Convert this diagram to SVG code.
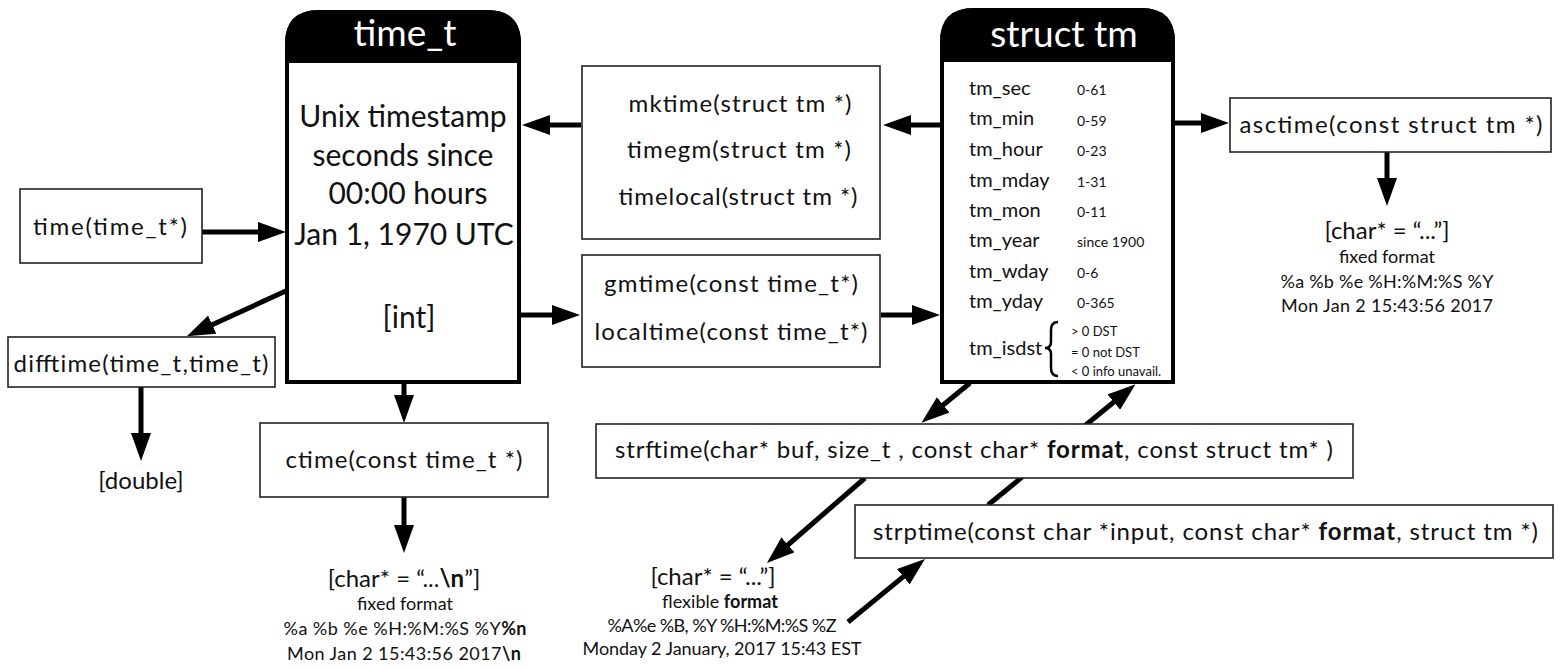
<svg xmlns="http://www.w3.org/2000/svg" width="1560" height="669" viewBox="0 0 1560 669">
<style>
text{font-family:Lato,"Open Sans","Liberation Sans",sans-serif;fill:#111;}
.t{text-anchor:middle;}
.big{font-size:30px;}
.fn{font-size:24px;}
.hd{font-size:37px;fill:#fff;text-anchor:middle;}
.fld{font-size:20px;}
.val{font-size:14px;}
.sm{font-size:13px;}
.res{font-size:24px;text-anchor:middle;}
.res2{font-size:18px;text-anchor:middle;}
.b{font-weight:bold;}
.box{fill:#fff;stroke:#222;stroke-width:1.6;}
.main{fill:#fff;stroke:#000;stroke-width:4;}
.arr{stroke:#000;stroke-width:5;fill:none;marker-end:url(#ah);}
</style>
<defs>
<marker id="ah" markerUnits="userSpaceOnUse" markerWidth="28" markerHeight="20" refX="8" refY="10" orient="auto">
<path d="M0,0 L28,10 L0,20 Z" fill="#000"/>
</marker>
</defs>
<rect width="1560" height="669" fill="#fff"/>
<g id="connectors">
<line class="arr" x1="202" y1="232" x2="266" y2="232"/>
<line class="arr" x1="581" y1="125" x2="542" y2="125"/>
<line class="arr" x1="940" y1="125" x2="903" y2="125"/>
<line class="arr" x1="521" y1="315" x2="560" y2="315"/>
<line class="arr" x1="881" y1="315" x2="920" y2="315"/>
<line class="arr" x1="1175" y1="123" x2="1209" y2="123"/>
<line class="arr" x1="1387" y1="152" x2="1387" y2="186"/>
<line class="arr" x1="288" y1="290" x2="205" y2="328"/>
<line class="arr" x1="141" y1="387" x2="141" y2="441"/>
<line class="arr" x1="404" y1="382" x2="404" y2="403"/>
<line class="arr" x1="404" y1="497" x2="404" y2="533"/>
<line class="arr" x1="970" y1="383" x2="937" y2="410"/>
<line class="arr" x1="988" y1="505" x2="1120" y2="397"/>
<line class="arr" x1="865" y1="478" x2="782" y2="550"/>
<line class="arr" x1="848" y1="622" x2="909.5" y2="571.6"/>
</g>
<g id="time_t">
<path class="main" d="M287,382 V44 Q287,12 319,12 H487 Q519,12 519,44 V382 Z"/>
<path d="M287,61 V44 Q287,12 319,12 H487 Q519,12 519,44 V61 Z" fill="#000" stroke="#000" stroke-width="4"/>
<text class="hd" x="405" y="46">time_t</text>
<text class="t big" x="403" y="127">Unix timestamp</text>
<text class="t big" x="403" y="166">seconds since</text>
<text class="t big" x="408" y="204">00:00 hours</text>
<text class="t big" x="404" y="245">Jan 1, 1970 UTC</text>
<text class="t big" x="409" y="328">[int]</text>
</g>
<g id="struct_tm">
<path class="main" d="M942,382 V42 Q942,10 974,10 H1141 Q1173,10 1173,42 V382 Z"/>
<path d="M942,60 V42 Q942,10 974,10 H1141 Q1173,10 1173,42 V60 Z" fill="#000" stroke="#000" stroke-width="4"/>
<text class="hd" x="1064" y="47">struct tm</text>
<text class="fld" x="969" y="95">tm_sec</text><text class="val" x="1077" y="95">0-61</text>
<text class="fld" x="969" y="125">tm_min</text><text class="val" x="1077" y="126">0-59</text>
<text class="fld" x="969" y="156">tm_hour</text><text class="val" x="1077" y="156">0-23</text>
<text class="fld" x="969" y="187">tm_mday</text><text class="val" x="1077" y="187">1-31</text>
<text class="fld" x="969" y="217">tm_mon</text><text class="val" x="1077" y="217">0-11</text>
<text class="fld" x="969" y="247">tm_year</text><text class="val" x="1077" y="247">since 1900</text>
<text class="fld" x="969" y="278">tm_wday</text><text class="val" x="1077" y="278">0-6</text>
<text class="fld" x="969" y="308">tm_yday</text><text class="val" x="1077" y="308">0-365</text>
<text class="fld" x="969" y="355">tm_isdst</text>
<path d="M1058,322 Q1051,322 1051,330 V342 Q1051,348 1045,348 Q1051,348 1051,354 V368 Q1051,376 1058,376" fill="none" stroke="#000" stroke-width="2.5"/>
<text class="sm" x="1071" y="336">&gt; 0 DST</text>
<text class="sm" x="1071" y="357">= 0 not DST</text>
<text class="sm" x="1071" y="376">&lt; 0 info unavail.</text>
</g>
<g id="time_fn">
<rect class="box" x="20" y="189" width="182" height="74"/>
<text class="fn t" x="110" y="235" textLength="154">time(time_t*)</text>
</g>
<g id="difftime">
<rect class="box" x="8" y="337" width="267" height="50"/>
<text class="fn t" x="141" y="372" textLength="255">difftime(time_t,time_t)</text>
</g>
<g id="double_result">
<text class="res" x="141" y="489">[double]</text>
</g>
<g id="ctime">
<rect class="box" x="260" y="423" width="288" height="74"/>
<text class="fn t" x="404" y="468" textLength="237">ctime(const time_t *)</text>
</g>
<g id="ctime_result">
<text class="res" x="404" y="587">[char* = “...<tspan class="b">\n</tspan>”]</text>
<text class="res2" x="405" y="610">fixed format</text>
<text class="res2" x="405" y="635" textLength="243">%a %b %e %H:%M:%S %Y<tspan class="b">%n</tspan></text>
<text class="res2" x="404" y="660" textLength="234">Mon Jan 2 15:43:56 2017<tspan class="b">\n</tspan></text>
</g>
<g id="mktime">
<rect class="box" x="582" y="66" width="298" height="173"/>
<text class="fn t" x="740" y="112" textLength="223">mktime(struct tm *)</text>
<text class="fn t" x="739" y="158" textLength="224">timegm(struct tm *)</text>
<text class="fn t" x="738" y="205" textLength="239">timelocal(struct tm *)</text>
</g>
<g id="gmtime">
<rect class="box" x="582" y="255" width="298" height="112"/>
<text class="fn t" x="731" y="292" textLength="254">gmtime(const time_t*)</text>
<text class="fn t" x="731" y="340" textLength="273">localtime(const time_t*)</text>
</g>
<g id="asctime">
<rect class="box" x="1230" y="98" width="321" height="54"/>
<text class="fn t" x="1391" y="133" textLength="303">asctime(const struct tm *)</text>
</g>
<g id="asctime_result">
<text class="res" x="1387" y="239">[char* = “...”]</text>
<text class="res2" x="1387" y="263">fixed format</text>
<text class="res2" x="1387" y="288" textLength="213">%a %b %e %H:%M:%S %Y</text>
<text class="res2" x="1387" y="312" textLength="212">Mon Jan 2 15:43:56 2017</text>
</g>
<g id="strftime">
<rect class="box" x="596" y="424" width="757" height="54"/>
<text class="fn" x="615" y="458" textLength="718">strftime(char* buf, size_t , const char* <tspan class="b">format</tspan>, const struct tm* )</text>
</g>
<g id="strptime">
<rect class="box" x="855" y="505" width="698" height="53"/>
<text class="fn" x="873" y="540" textLength="665">strptime(const char *input, const char* <tspan class="b">format</tspan>, struct tm *)</text>
</g>
<g id="strftime_result">
<text class="res" x="713" y="585">[char* = “...”]</text>
<text class="res2" x="720" y="608">flexible <tspan class="b">format</tspan></text>
<text class="res2" x="722" y="632" textLength="229">%A%e %B, %Y %H:%M:%S %Z</text>
<text class="res2" x="722" y="655" textLength="279">Monday 2 January, 2017 15:43 EST</text>
</g>
</svg>
